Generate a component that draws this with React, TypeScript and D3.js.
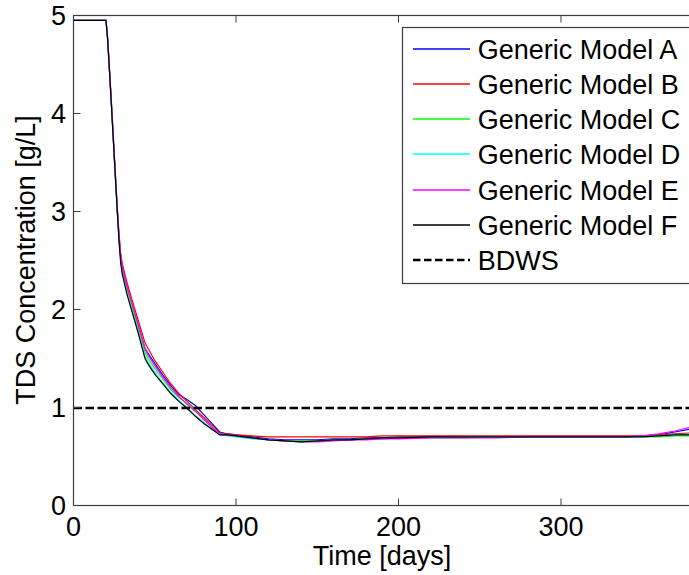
import React from "react";
import * as d3 from "d3";

const days = [0, 20, 21, 22, 23, 24, 25, 26, 27, 28, 29, 30, 33, 36, 40, 44, 46, 50, 55, 60, 65, 70, 75, 80, 85, 90, 95, 100, 110, 120, 130, 140, 150, 160, 170, 180, 190, 200, 220, 240, 260, 280, 300, 320, 340, 350, 360, 370, 380, 390, 400];

const modelA = [4.95, 4.95, 4.76, 4.48, 4.19, 3.89, 3.59, 3.29, 3.0, 2.74, 2.54, 2.42, 2.22, 2.05, 1.83, 1.6, 1.55, 1.45, 1.33, 1.22, 1.13, 1.08, 1.02, 0.93, 0.84, 0.75, 0.73, 0.72, 0.7, 0.68, 0.67, 0.67, 0.67, 0.68, 0.68, 0.69, 0.69, 0.7, 0.7, 0.7, 0.7, 0.7, 0.7, 0.7, 0.7, 0.71, 0.72, 0.75, 0.78, 0.8, 0.82];
const modelB = [4.95, 4.95, 4.78, 4.5, 4.22, 3.92, 3.62, 3.32, 3.03, 2.78, 2.58, 2.47, 2.27, 2.1, 1.88, 1.66, 1.6, 1.48, 1.36, 1.24, 1.14, 1.06, 0.98, 0.9, 0.82, 0.74, 0.73, 0.72, 0.71, 0.7, 0.7, 0.7, 0.7, 0.7, 0.7, 0.7, 0.71, 0.71, 0.71, 0.71, 0.71, 0.71, 0.71, 0.71, 0.71, 0.71, 0.72, 0.73, 0.74, 0.75, 0.76];
const modelC = [4.95, 4.95, 4.75, 4.47, 4.18, 3.88, 3.58, 3.28, 2.99, 2.72, 2.52, 2.4, 2.2, 2.03, 1.8, 1.56, 1.5, 1.4, 1.29, 1.18, 1.1, 1.04, 0.97, 0.88, 0.8, 0.73, 0.72, 0.71, 0.69, 0.67, 0.66, 0.66, 0.66, 0.67, 0.67, 0.68, 0.68, 0.69, 0.69, 0.69, 0.7, 0.7, 0.7, 0.7, 0.7, 0.7, 0.7, 0.71, 0.71, 0.72, 0.72];
const modelD = [4.95, 4.95, 4.75, 4.47, 4.18, 3.88, 3.58, 3.28, 2.98, 2.71, 2.5, 2.37, 2.16, 1.99, 1.76, 1.52, 1.46, 1.36, 1.25, 1.15, 1.07, 1.0, 0.92, 0.85, 0.78, 0.72, 0.71, 0.7, 0.68, 0.67, 0.66, 0.65, 0.66, 0.67, 0.67, 0.68, 0.68, 0.69, 0.69, 0.7, 0.7, 0.7, 0.7, 0.7, 0.7, 0.7, 0.71, 0.72, 0.73, 0.74, 0.75];
const modelE = [4.95, 4.95, 4.77, 4.49, 4.2, 3.9, 3.6, 3.3, 3.01, 2.75, 2.55, 2.43, 2.23, 2.06, 1.84, 1.6, 1.53, 1.43, 1.31, 1.2, 1.11, 1.03, 0.96, 0.88, 0.8, 0.73, 0.72, 0.71, 0.69, 0.67, 0.66, 0.65, 0.65, 0.66, 0.67, 0.67, 0.68, 0.68, 0.69, 0.69, 0.69, 0.7, 0.7, 0.7, 0.7, 0.71, 0.73, 0.76, 0.8, 0.83, 0.85];
const modelF = [4.95, 4.95, 4.75, 4.47, 4.18, 3.88, 3.58, 3.28, 2.98, 2.7, 2.48, 2.36, 2.15, 1.98, 1.75, 1.5, 1.44, 1.34, 1.24, 1.14, 1.06, 0.99, 0.91, 0.84, 0.78, 0.72, 0.72, 0.71, 0.69, 0.67, 0.66, 0.65, 0.66, 0.67, 0.67, 0.68, 0.69, 0.69, 0.7, 0.7, 0.7, 0.7, 0.7, 0.7, 0.7, 0.7, 0.71, 0.72, 0.72, 0.73, 0.73];

const seriesNames = ["Generic Model A", "Generic Model B", "Generic Model C", "Generic Model D", "Generic Model E", "Generic Model F"];
const seriesValues = [modelA, modelB, modelC, modelD, modelE, modelF];
const seriesColors = ["#0000ff", "#ff0000", "#00ff00", "#00ffff", "#ff00ff", "#000000"];

const bdwsLabel = "BDWS";
const bdwsValue = 1;

const xTicks = [0, 100, 200, 300, 400];
const xTickLabels = ["0", "100", "200", "300", ""];
const yTicks = [0, 1, 2, 3, 4, 5];

const W = 689;
const H = 575;
const FONT = "Arial, 'Liberation Sans', Helvetica, sans-serif";
const FS = 27;
const AX = "#3c3c3c";

export default function App() {
  const x = d3.scaleLinear().domain([0, 400]).range([73.5, 723.5]);
  const y = d3.scaleLinear().domain([0, 5]).range([505.5, 15.5]);
  const line = d3
    .line<number>()
    .x((_, i) => x(days[i]))
    .y((v) => y(v));

  const [x0, x1] = x.range();
  const [yb, yt] = y.range();
  const tickLen = 7;

  const legX = 402.5;
  const legY = 27.5;
  const rowH = 35.3;
  const legendRows = [...seriesNames, bdwsLabel];

  return (
    <svg width={W} height={H} style={{ position: "absolute", left: 0, top: 0, background: "#fff" }} fontFamily={FONT}>
      <rect x={0} y={0} width={W} height={H} fill="#fff" />
      <defs>
        <clipPath id="plot">
          <rect x={x0} y={yt} width={x1 - x0} height={yb - yt} />
        </clipPath>
      </defs>
      <g clipPath="url(#plot)">
        {seriesValues.map((vals, i) => (
          <path key={i} d={line(vals) || ""} fill="none" stroke={seriesColors[i]} strokeWidth={1.2} />
        ))}
        <line x1={x0} x2={x1} y1={Math.round(y(bdwsValue))} y2={Math.round(y(bdwsValue))} stroke="#000" strokeWidth={2.4} strokeDasharray="8.5,3.5" />
      </g>
      {/* axes box */}
      <rect x={x0} y={yt} width={x1 - x0} height={yb - yt} fill="none" stroke={AX} strokeWidth={1.2} />
      {xTicks.map((t, i) => (
        <g key={"x" + t}>
          <line x1={x(t)} x2={x(t)} y1={yb} y2={yb - tickLen} stroke={AX} />
          <line x1={x(t)} x2={x(t)} y1={yt} y2={yt + tickLen} stroke={AX} />
          {xTickLabels[i] ? (
            <text x={x(t)} y={535.5} textAnchor="middle" fontSize={FS} fill="#000">
              {xTickLabels[i]}
            </text>
          ) : null}
        </g>
      ))}
      {yTicks.map((t) => (
        <g key={"y" + t}>
          <line x1={x0} x2={x0 + tickLen} y1={y(t)} y2={y(t)} stroke={AX} />
          <line x1={x1} x2={x1 - tickLen} y1={y(t)} y2={y(t)} stroke={AX} />
          <text x={66} y={y(t) + 9.7} textAnchor="end" fontSize={FS} fill="#000">
            {t}
          </text>
        </g>
      ))}
      <text x={382} y={565} textAnchor="middle" fontSize={FS} fill="#000">
        Time [days]
      </text>
      <text transform={`translate(35,260) rotate(-90)`} textAnchor="middle" fontSize={FS} fill="#000">
        TDS Concentration [g/L]
      </text>
      {/* legend */}
      <rect x={legX} y={legY} width={400} height={256} fill="#fff" stroke={AX} strokeWidth={1.2} />
      {legendRows.map((name, i) => {
        const cy = Math.round(legY + 21 + i * rowH);
        const isB = i === seriesNames.length;
        return (
          <g key={name}>
            <line
              x1={413}
              x2={470}
              y1={cy}
              y2={cy}
              stroke={isB ? "#000" : seriesColors[i]}
              strokeWidth={isB ? 2.4 : 1.6}
              strokeDasharray={isB ? "7.5,3.5" : undefined}
            />
            <text x={477.7} y={cy + 9.5} fontSize={FS} fill="#000">
              {name}
            </text>
          </g>
        );
      })}
    </svg>
  );
}
